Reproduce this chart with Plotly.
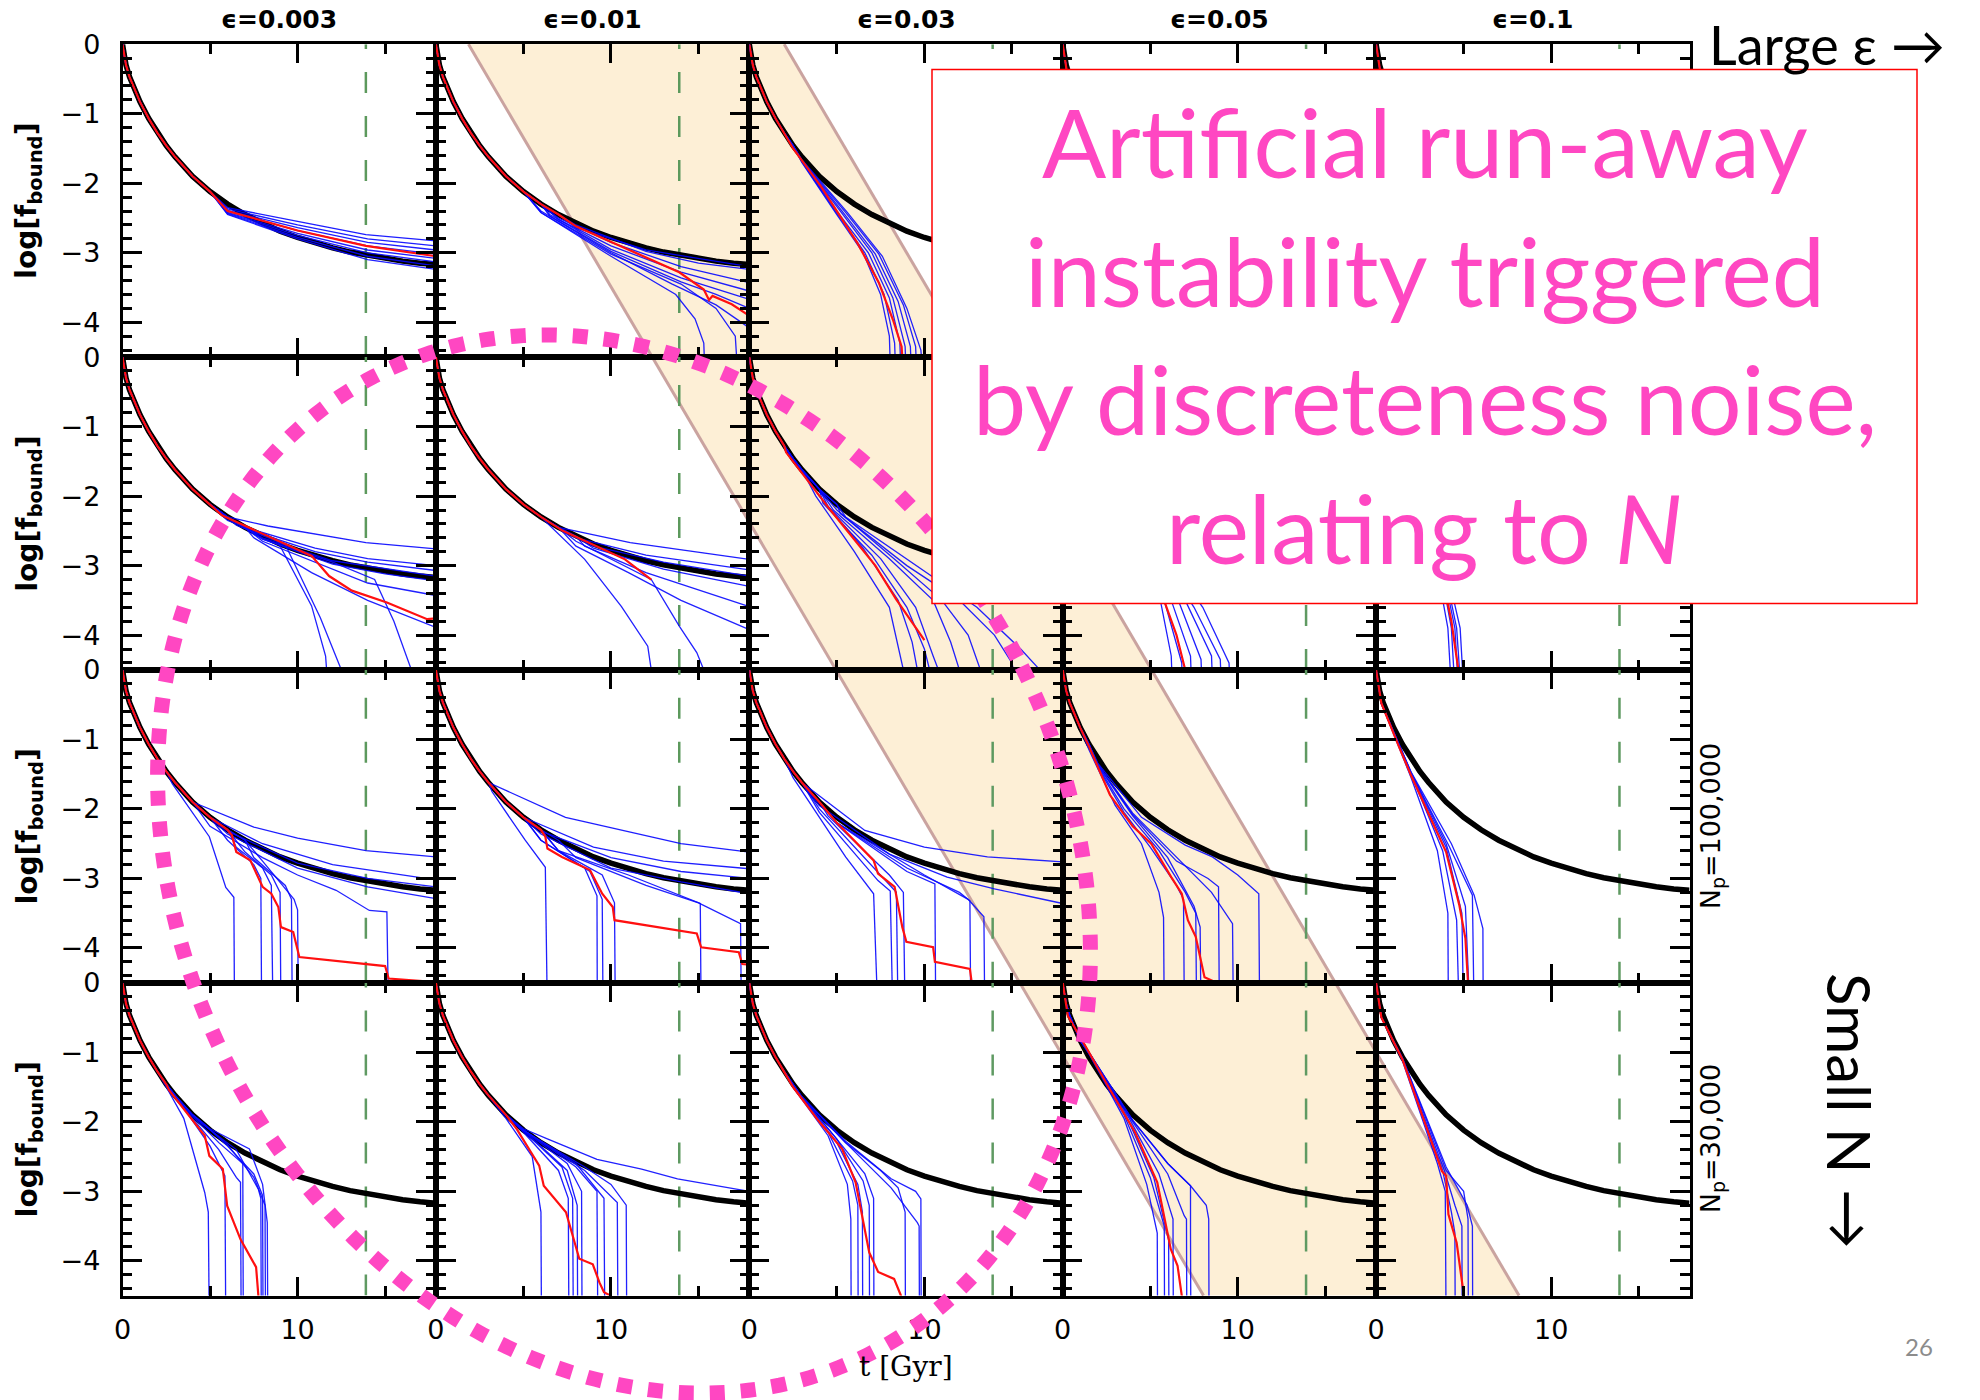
import numpy as np
import plotly.graph_objects as go

# ---------------------------------------------------------------- data --
EPSILON_LABELS = ["ϵ=0.003", "ϵ=0.01", "ϵ=0.03", "ϵ=0.05", "ϵ=0.1"]
NP_ROW_LABELS = [None, None, "N<sub>p</sub>=100,000", "N<sub>p</sub>=30,000"]
X_TICKS = [0, 10]
Y_TICKS = [0, -1, -2, -3, -4]
T_RANGE = [0, 17.9]
LOGF_RANGE = [-4.5, 0]
T_HUBBLE = 13.9

# converged reference track, log f_bound vs t [Gyr]
REF_T = [0, 0.2, 0.4, 0.7, 1.0, 1.5, 2.0, 2.5, 3.0, 4.0, 5.0, 6.0, 7.0, 8.0,
         9.0, 10.0, 11.0, 12.0, 13.0, 14.0, 15.0, 16.0, 17.0, 17.9]
REF_LOGF = [0, -0.3, -0.47, -0.66, -0.83, -1.07, -1.28, -1.46, -1.62, -1.9,
            -2.12, -2.3, -2.45, -2.58, -2.69, -2.78, -2.86, -2.93, -2.99,
            -3.04, -3.08, -3.12, -3.15, -3.17]

# individual runs: (t, log f) points after they leave the reference track
# row 1
RED_R1C1 = [(6, -2.4), (10, -2.68), (13.9, -2.9), (17.9, -3.05)]
BLUE_R1C1 = [
    [(6, -2.35), (10, -2.55), (13.9, -2.74), (17.9, -2.83)],
    [(6, -2.37), (10, -2.6), (14, -2.8), (17.9, -2.9)],
    [(6, -2.39), (10, -2.64), (14, -2.85), (17.9, -2.96)],
    [(6, -2.4), (10, -2.68), (14, -2.9), (17.9, -3.02)],
    [(6, -2.42), (10, -2.72), (14, -2.96), (17.9, -3.08)],
    [(6, -2.43), (10, -2.75), (14, -3.0), (17.9, -3.13)],
    [(6, -2.44), (10, -2.78), (14, -3.05), (17.9, -3.19)],
    [(6, -2.45), (10, -2.8), (14, -3.1), (17.9, -3.24)],
]
RED_R1C2 = [(8, -2.62), (10, -2.84), (13.9, -3.28), (15.3, -3.53), (15.6, -3.68),
            (15.8, -3.62), (16.9, -3.74), (17.8, -3.89)]
BLUE_R1C2 = [
    [(8, -2.64), (12, -2.96), (17.9, -3.2)],
    [(8, -2.6), (12, -2.98), (15, -3.15), (17.9, -3.24)],
    [(7, -2.5), (10, -2.85), (14, -3.2), (17.9, -3.43)],
    [(7, -2.52), (10, -2.9), (14, -3.28), (17.9, -3.55)],
    [(6.5, -2.45), (10, -2.95), (14, -3.36), (17.9, -3.67)],
    [(6.5, -2.47), (10, -2.98), (14, -3.42), (16, -3.6), (17.9, -3.8)],
    [(6, -2.4), (10, -3.0), (13.5, -3.45), (16, -3.75), (17.9, -4.08)],
    [(6, -2.42), (10, -3.05), (13.7, -3.6), (14.8, -3.95), (15.3, -4.3), (15.4, -5)],
    [(6, -2.42), (10, -3.02), (14, -3.45), (16, -3.8), (17.1, -4.2), (17.3, -5)],
]
RED_R1C3 = [(2.5, -1.5), (4.1, -2.05), (6.15, -2.85), (7.4, -3.43), (8.2, -3.96),
            (8.7, -4.35), (8.85, -5)]
BLUE_R1C3 = [
    [(3, -1.7), (5, -2.45), (6.5, -3.0), (7.5, -3.6), (8.0, -4.2), (8.1, -5)],
    [(3, -1.69), (5, -2.43), (6.6, -3.0), (7.7, -3.6), (8.3, -4.3), (8.4, -5)],
    [(3, -1.68), (5, -2.4), (6.8, -3.0), (8.0, -3.65), (8.6, -4.3), (8.7, -5)],
    [(3, -1.68), (5.2, -2.4), (7.0, -3.0), (8.2, -3.65), (8.9, -4.35), (9.0, -5)],
    [(3, -1.67), (5.3, -2.4), (7.2, -3.02), (8.5, -3.7), (9.2, -4.35), (9.3, -5)],
    [(3, -1.67), (5.5, -2.42), (7.4, -3.02), (8.8, -3.75), (9.5, -4.35), (9.6, -5)],
    [(3, -1.66), (5.6, -2.42), (7.6, -3.05), (9.0, -3.8), (9.8, -4.4), (10.0, -5)],
]
RED_R1C4 = [(0.3, -0.5), (2, -1.45), (4, -2.4), (6, -3.3), (7.2, -4.0), (7.8, -4.5)]
BLUE_R1C4 = [
    [(0.3, -0.5), (2, -1.48), (4, -2.5), (6, -3.55), (6.7, -4.3), (6.8, -5)],
    [(0.3, -0.5), (2, -1.47), (4, -2.45), (6.2, -3.5), (7.2, -4.3), (7.3, -5)],
    [(0.3, -0.5), (2, -1.46), (4.2, -2.45), (6.6, -3.5), (7.7, -4.3), (7.8, -5)],
    [(0.3, -0.5), (2, -1.45), (4.4, -2.45), (7.0, -3.5), (8.2, -4.3), (8.3, -5)],
    [(0.3, -0.5), (2, -1.44), (4.6, -2.45), (7.4, -3.5), (8.7, -4.3), (8.8, -5)],
    [(0.3, -0.5), (2, -1.43), (4.8, -2.45), (7.8, -3.5), (9.3, -4.35), (9.4, -5)],
    [(0.3, -0.5), (2, -1.42), (5.0, -2.45), (8.3, -3.5), (9.9, -4.4), (10.0, -5)],
]
RED_R1C5 = [(0.3, -0.5), (1.5, -1.12), (3.5, -2.6), (4.5, -3.6), (5.0, -4.5)]
BLUE_R1C5 = [
    [(0.3, -0.5), (1.5, -1.14), (3.4, -2.7), (4.2, -3.8), (4.5, -5)],
    [(0.3, -0.5), (1.5, -1.13), (3.6, -2.7), (4.4, -3.8), (4.7, -5)],
    [(0.3, -0.5), (1.5, -1.12), (3.8, -2.7), (4.6, -3.8), (4.9, -5)],
    [(0.3, -0.5), (1.5, -1.11), (4.0, -2.7), (4.8, -3.7), (5.1, -5)],
    [(0.3, -0.5), (1.5, -1.1), (4.2, -2.7), (5.0, -3.6), (5.4, -5)],
]
# row 2
RED_R2C1 = [(5.7, -2.28), (10.8, -2.86), (11.8, -3.15), (13.1, -3.36), (15.1, -3.53),
            (17.4, -3.77), (17.9, -3.76)]
BLUE_R2C1 = [
    [(6, -2.3), (8.3, -2.43), (13.9, -2.67), (17.9, -2.76)],
    [(7, -2.45), (11, -2.75), (14, -2.9), (17.9, -3.0)],
    [(7, -2.47), (11, -2.8), (14, -2.95), (17.9, -3.07)],
    [(8, -2.6), (12, -2.93), (17.9, -3.15)],
    [(8, -2.62), (12, -2.98), (15, -3.12), (17.9, -3.22)],
    [(8, -2.65), (11, -2.95), (14, -3.25), (17.9, -3.43)],
    [(7.5, -2.6), (10.8, -3.1), (14, -3.5), (17.9, -3.89)],
    [(6, -2.35), (8.8, -2.62), (10.8, -3.58), (11.6, -4.3), (11.8, -5)],
    [(6.5, -2.42), (9.3, -2.7), (11.3, -3.75), (12.5, -4.5), (12.55, -5)],
    [(8, -2.62), (12, -2.95), (14.4, -3.2), (15.5, -3.8), (16.5, -4.5), (16.55, -5)],
]
RED_R2C2 = [(7.25, -2.5), (10.8, -2.91), (12.3, -3.2)]
BLUE_R2C2 = [
    [(7, -2.45), (11.1, -2.67), (17.9, -2.91)],
    [(8, -2.6), (12, -2.85), (17.9, -3.06)],
    [(9, -2.72), (13, -2.95), (17.9, -3.15)],
    [(9, -2.75), (13, -3.05), (17.9, -3.3)],
    [(8.5, -2.72), (12, -3.1), (15, -3.35), (17.9, -3.59)],
    [(8, -2.72), (11, -3.1), (14, -3.5), (17.9, -3.92)],
    [(7, -2.55), (8.5, -2.91), (10.6, -3.59), (12.1, -4.16), (12.3, -4.5), (12.35, -5)],
    [(8, -2.65), (12.3, -3.2), (13.9, -3.87), (14.9, -4.25), (15.3, -4.5), (15.35, -5)],
]
RED_R2C3 = [(2.1, -1.37), (4.6, -2.19), (7.2, -3.0), (8.4, -3.49), (10.0, -4.07)]
BLUE_R2C3 = [
    [(3.8, -2.0), (6, -2.8), (8, -3.6), (8.8, -4.5), (8.85, -5)],
    [(4.0, -2.0), (6.5, -2.75), (8.5, -3.5), (9.3, -4.1), (9.6, -4.5), (9.65, -5)],
    [(4.2, -2.1), (7, -2.85), (9, -3.6), (10, -4.2), (10.3, -4.5), (10.35, -5)],
    [(4.5, -2.15), (7.5, -2.9), (9.5, -3.6), (10.5, -4.3), (10.8, -4.5), (10.85, -5)],
    [(4.8, -2.2), (8, -2.9), (10.5, -3.5), (11.5, -4.1), (12, -4.5), (12.05, -5)],
    [(5, -2.2), (8.5, -2.95), (11, -3.5), (12.5, -4.0), (13.2, -4.5), (13.25, -5)],
    [(5.2, -2.25), (9, -3.0), (12, -3.5), (14, -4.0), (15, -4.4), (15.5, -5)],
    [(5.5, -2.3), (9.5, -3.0), (13, -3.6), (15.5, -4.2), (16.6, -4.5), (16.65, -5)],
]
RED_R2C4 = [(0.3, -0.5), (2, -1.5), (4, -2.5), (5.5, -3.3), (6.5, -4.0), (7.0, -4.5)]
BLUE_R2C4 = [
    [(0.3, -0.5), (2, -1.5), (4, -2.55), (5.5, -3.4), (6.2, -4.3), (6.3, -5)],
    [(0.3, -0.5), (2, -1.48), (4, -2.5), (5.8, -3.5), (6.8, -4.4), (6.85, -5)],
    [(0.3, -0.5), (2, -1.47), (4.2, -2.5), (6.2, -3.5), (7.3, -4.3), (7.4, -5)],
    [(0.3, -0.5), (2, -1.46), (4.4, -2.5), (6.6, -3.5), (7.9, -4.35), (8.0, -5)],
    [(0.3, -0.5), (2, -1.45), (4.5, -2.45), (7.0, -3.5), (8.5, -4.3), (8.6, -5)],
    [(0.3, -0.5), (2, -1.45), (4.6, -2.45), (7.5, -3.6), (9.0, -4.35), (9.1, -5)],
    [(0.3, -0.5), (2, -1.44), (4.8, -2.45), (8.0, -3.6), (9.5, -4.4), (9.6, -5)],
]
RED_R2C5 = [(0.3, -0.5), (1.5, -1.15), (3.5, -2.8), (4.3, -3.8), (4.7, -4.5)]
BLUE_R2C5 = [
    [(0.3, -0.5), (1.5, -1.15), (3.3, -2.8), (4.1, -3.9), (4.35, -5)],
    [(0.3, -0.5), (1.5, -1.14), (3.5, -2.8), (4.3, -3.9), (4.55, -5)],
    [(0.3, -0.5), (1.5, -1.13), (3.6, -2.8), (4.5, -3.9), (4.75, -5)],
    [(0.3, -0.5), (1.5, -1.12), (3.7, -2.8), (4.6, -3.9), (4.9, -5)],
    [(0.3, -0.5), (1.5, -1.12), (3.8, -2.8), (4.8, -3.9), (5.05, -5)],
]
# row 3  (N_p = 100,000)
RED_R3C1 = [(6.25, -2.38), (6.5, -2.62), (7.3, -2.74), (8.0, -3.12), (8.5, -3.22),
            (8.9, -3.41), (9.05, -3.7), (9.75, -3.77), (10.1, -4.13), (15.0, -4.26),
            (15.2, -4.44), (17.9, -4.49)]
BLUE_R3C1 = [
    [(2.6, -1.5), (4, -1.9), (7.5, -2.26), (10, -2.42), (13.9, -2.6), (17.9, -2.69)],
    [(5, -2.12), (8, -2.5), (12, -2.8), (17.9, -3.02)],
    [(6, -2.32), (10, -2.78), (14, -3.0), (17.9, -3.12)],
    [(6, -2.36), (10, -2.85), (14, -3.12), (17.9, -3.29)],
    [(5, -2.25), (8, -2.7), (10, -2.95), (12.2, -3.17), (14.1, -3.46), (15.1, -3.48), (15.2, -5)],
    [(2.85, -1.64), (4.96, -2.4), (5.9, -3.13), (6.36, -3.27), (6.4, -5)],
    [(6, -2.45), (7.5, -2.8), (7.9, -3.0), (7.95, -5)],
    [(6.5, -2.55), (8, -2.85), (8.5, -3.1), (8.6, -5)],
    [(7, -2.62), (8.5, -2.95), (9.0, -3.2), (9.05, -5)],
    [(7.5, -2.7), (9.3, -3.1), (9.65, -3.3), (9.7, -5)],
    [(8, -2.75), (9.8, -3.3), (10.0, -3.45), (10.05, -5)],
]
RED_R3C2 = [(6.25, -2.4), (6.37, -2.57), (7.2, -2.69), (8.8, -2.88), (9.5, -3.22),
            (10.1, -3.41), (10.2, -3.6), (14.9, -3.79), (15.15, -3.99), (17.3, -4.06),
            (17.5, -4.23), (17.9, -4.24)]
BLUE_R3C2 = [
    [(3, -1.62), (7.4, -2.12), (14, -2.5), (17.9, -2.62)],
    [(5, -2.12), (9, -2.55), (13, -2.75), (17.9, -2.86)],
    [(6, -2.32), (10, -2.7), (14, -2.9), (17.9, -3.0)],
    [(6, -2.36), (10, -2.85), (14, -3.05), (17.9, -3.22)],
    [(3.2, -1.75), (5.1, -2.45), (6.25, -2.84), (6.37, -5)],
    [(6, -2.45), (8.5, -2.85), (9.2, -3.25), (9.22, -5)],
    [(6, -2.45), (8.8, -2.9), (9.5, -3.3), (9.55, -5)],
    [(7, -2.6), (9.5, -2.95), (10.2, -3.35), (10.25, -5)],
    [(7, -2.6), (11, -2.95), (14, -3.25), (15.1, -3.36), (15.15, -5)],
    [(8, -2.7), (12, -3.1), (15, -3.35), (17.4, -3.65), (17.45, -5)],
]
RED_R3C3 = [(5, -2.2), (7.1, -2.74), (7.35, -2.93), (8.3, -3.12), (8.74, -3.7),
            (8.97, -3.91), (10.5, -3.99), (10.6, -4.2), (12.6, -4.3), (12.7, -4.49),
            (13.0, -4.5)]
BLUE_R3C3 = [
    [(3, -1.62), (6.6, -2.31), (10, -2.55), (13.6, -2.69), (17.9, -2.76)],
    [(4, -1.95), (8, -2.65), (11.3, -2.98), (14, -3.15), (17.9, -3.36)],
    [(2.5, -1.55), (5.5, -2.69), (7.1, -3.22), (7.35, -5)],
    [(4, -2.05), (7.35, -3.03), (8.05, -3.18), (8.2, -5)],
    [(4, -2.0), (7.5, -2.95), (8.4, -3.2), (8.5, -5)],
    [(4.5, -2.1), (8, -2.95), (8.8, -3.2), (8.9, -5)],
    [(5, -2.2), (9, -2.9), (10.6, -3.08), (10.65, -5)],
    [(5, -2.2), (9, -2.85), (12, -3.2), (12.6, -3.32), (12.65, -5)],
    [(5, -2.2), (10, -2.95), (12.5, -3.3), (13.4, -3.55), (13.45, -5)],
]
RED_R3C4 = [(1.5, -1.1), (2.7, -1.8), (4, -2.25), (5.06, -2.5), (6.2, -2.98),
            (6.8, -3.22), (7.15, -3.6), (7.6, -3.84), (8.1, -4.42), (8.8, -4.5)]
BLUE_R3C4 = [
    [(1.5, -1.15), (3, -1.95), (4.5, -2.5), (5.5, -3.2), (5.76, -3.56), (5.8, -5)],
    [(2, -1.4), (3.5, -2.05), (5, -2.55), (6.5, -3.1), (6.9, -3.3), (6.95, -5)],
    [(2, -1.38), (3.5, -2.0), (5.5, -2.6), (7, -3.2), (7.6, -3.5), (7.65, -5)],
    [(2, -1.37), (4, -2.1), (6, -2.7), (7.5, -3.4), (7.85, -3.7), (7.9, -5)],
    [(2, -1.36), (4, -2.08), (6.5, -2.75), (8.3, -3.0), (8.9, -3.12), (8.95, -5)],
    [(2, -1.36), (4, -2.06), (6.5, -2.7), (8.5, -3.2), (9.7, -3.65), (9.75, -5)],
    [(2, -1.34), (4.5, -2.12), (7, -2.52), (8.55, -2.69), (10, -2.95), (11.2, -3.22), (11.25, -5)],
]
RED_R3C5 = [(0.3, -0.48), (1.3, -1.1), (2.0, -1.52), (4.0, -2.62), (4.75, -3.38),
            (5.1, -3.86), (5.25, -4.5)]
BLUE_R3C5 = [
    [(0.3, -0.48), (2, -1.55), (3.5, -2.6), (4.1, -3.5), (4.13, -5)],
    [(0.3, -0.48), (2, -1.5), (3.8, -2.6), (4.6, -3.6), (4.75, -5)],
    [(0.3, -0.48), (2, -1.5), (4, -2.55), (4.9, -3.5), (5.0, -5)],
    [(0.3, -0.48), (2, -1.48), (4, -2.5), (5.1, -3.4), (5.37, -5)],
    [(0.3, -0.48), (2, -1.48), (4.2, -2.55), (5.5, -3.24), (5.6, -5)],
    [(0.3, -0.48), (2, -1.47), (4.3, -2.5), (5.6, -3.24), (6.1, -3.72), (6.12, -5)],
]
# row 4  (N_p = 30,000)
RED_R4C1 = [(2.67, -1.55), (4.7, -2.2), (4.96, -2.49), (5.73, -2.68), (5.98, -3.21),
            (6.74, -3.69), (7.63, -4.09), (7.76, -4.5), (7.8, -5)]
BLUE_R4C1 = [
    [(2.5, -1.5), (3.5, -1.95), (4.7, -3.02), (4.9, -3.3), (4.96, -5)],
    [(3.5, -1.8), (5, -2.35), (5.85, -2.78), (5.9, -5)],
    [(4, -1.95), (5.5, -2.4), (6.5, -2.8), (6.74, -2.87), (6.78, -5)],
    [(4, -1.92), (5.5, -2.3), (6.87, -2.6), (6.9, -5)],
    [(4.5, -2.0), (6, -2.35), (7.5, -2.75), (8.0, -3.06), (8.03, -5)],
    [(4.5, -2.0), (6, -2.33), (7.5, -2.8), (8.14, -3.2), (8.17, -5)],
    [(5, -2.1), (7.25, -2.39), (8.0, -2.9), (8.27, -3.45), (8.3, -5)],
    [(4.5, -2.02), (6.5, -2.4), (7.76, -2.97), (7.9, -3.1), (7.93, -5)],
]
RED_R4C2 = [(4.63, -2.11), (5.9, -2.63), (6.16, -2.92), (7.43, -3.3), (8.19, -3.97),
            (8.96, -4.05), (9.34, -4.31), (9.6, -4.45), (9.97, -4.5), (10.0, -5)]
BLUE_R4C2 = [
    [(5, -2.1), (6.4, -2.25), (9.2, -2.54), (11.75, -2.68), (13.8, -2.82), (17.9, -3.0)],
    [(4, -1.95), (5.5, -2.5), (6.0, -3.3), (6.03, -5)],
    [(5, -2.15), (7, -2.7), (7.56, -3.1), (7.6, -5)],
    [(5, -2.13), (7.2, -2.65), (7.81, -3.1), (7.85, -5)],
    [(5, -2.12), (7.5, -2.7), (8.07, -3.2), (8.1, -5)],
    [(5, -2.12), (7.5, -2.6), (8.32, -3.0), (8.35, -5)],
    [(5.5, -2.2), (8, -2.65), (9.2, -3.0), (9.25, -5)],
    [(5.5, -2.2), (8, -2.6), (9.6, -3.1), (9.65, -5)],
    [(5.5, -2.2), (8.5, -2.7), (10.36, -3.16), (10.4, -5)],
    [(5.5, -2.2), (8.5, -2.65), (10.0, -2.9), (10.87, -3.2), (10.9, -5)],
]
RED_R4C3 = [(2.5, -1.5), (4, -2.0), (5.3, -2.39), (6.07, -2.87), (6.85, -3.88),
            (7.36, -4.16), (8.27, -4.26), (8.66, -4.5), (8.7, -5)]
BLUE_R4C3 = [
    [(2.5, -1.5), (4.5, -2.2), (5.6, -2.9), (5.8, -3.4), (5.82, -5)],
    [(2.5, -1.5), (4.5, -2.15), (5.9, -2.85), (6.2, -3.2), (6.22, -5)],
    [(3, -1.65), (5, -2.3), (6.2, -2.9), (6.46, -3.3), (6.48, -5)],
    [(3, -1.65), (5, -2.25), (6.5, -2.85), (6.85, -3.2), (6.87, -5)],
    [(3, -1.64), (5, -2.25), (6.6, -2.75), (7.1, -3.1), (7.12, -5)],
    [(3, -1.64), (5.5, -2.3), (7.5, -2.7), (8.5, -2.95), (8.9, -3.3), (8.92, -5)],
    [(3, -1.64), (5.5, -2.28), (8.1, -2.82), (9.5, -3.0), (9.8, -3.11), (9.82, -5)],
    [(3, -1.64), (5.5, -2.3), (8.1, -2.95), (9.6, -3.45), (9.7, -3.5), (9.72, -5)],
]
RED_R4C4 = [(0.3, -0.48), (1.5, -1.0), (2.5, -1.45), (4.13, -2.15), (5.4, -2.87),
            (6.17, -3.83), (6.56, -4.07), (6.8, -4.5), (6.82, -5)]
BLUE_R4C4 = [
    [(1.5, -1.02), (3.5, -1.95), (4.8, -2.9), (5.4, -3.6), (5.42, -5)],
    [(1.5, -1.02), (3.5, -1.9), (5, -2.8), (5.8, -3.5), (5.82, -5)],
    [(1.5, -1.02), (3.6, -1.9), (5.2, -2.8), (6.05, -3.7), (6.07, -5)],
    [(1.5, -1.0), (3.8, -1.95), (5.5, -2.75), (6.3, -3.4), (6.32, -5)],
    [(1.5, -1.0), (4, -2.0), (6, -2.75), (6.94, -3.35), (7.07, -3.4), (7.09, -5)],
    [(1.5, -1.0), (4, -1.98), (6, -2.6), (7.3, -2.92), (7.3, -3.6), (7.32, -5)],
    [(1.5, -1.0), (4, -1.98), (6, -2.6), (7.3, -2.92), (8.2, -3.2), (8.34, -3.4), (8.36, -5)],
]
RED_R4C5 = [(0.3, -0.5), (1.5, -1.1), (3.76, -2.71), (4.0, -2.78), (4.13, -3.33),
            (4.6, -3.74), (5.0, -4.47), (5.02, -5)]
BLUE_R4C5 = [
    [(0.3, -0.5), (1.5, -1.12), (3.5, -2.6), (3.95, -3.0), (4.0, -5)],
    [(0.3, -0.5), (1.5, -1.1), (3.8, -2.7), (4.3, -3.3), (4.5, -3.6), (4.52, -5)],
    [(0.3, -0.5), (1.5, -1.1), (3.9, -2.7), (4.5, -3.2), (4.9, -3.5), (4.92, -5)],
    [(0.3, -0.5), (1.5, -1.08), (4.0, -2.7), (5.0, -3.0), (5.25, -3.4), (5.27, -5)],
    [(0.3, -0.5), (1.5, -1.08), (4.0, -2.65), (5.2, -3.2), (5.5, -3.5), (5.52, -5)],
]

RED_RUNS = [
    [RED_R1C1, RED_R1C2, RED_R1C3, RED_R1C4, RED_R1C5],
    [RED_R2C1, RED_R2C2, RED_R2C3, RED_R2C4, RED_R2C5],
    [RED_R3C1, RED_R3C2, RED_R3C3, RED_R3C4, RED_R3C5],
    [RED_R4C1, RED_R4C2, RED_R4C3, RED_R4C4, RED_R4C5],
]
BLUE_RUNS = [
    [BLUE_R1C1, BLUE_R1C2, BLUE_R1C3, BLUE_R1C4, BLUE_R1C5],
    [BLUE_R2C1, BLUE_R2C2, BLUE_R2C3, BLUE_R2C4, BLUE_R2C5],
    [BLUE_R3C1, BLUE_R3C2, BLUE_R3C3, BLUE_R3C4, BLUE_R3C5],
    [BLUE_R4C1, BLUE_R4C2, BLUE_R4C3, BLUE_R4C4, BLUE_R4C5],
]

# ------------------------------------------------------------- styling --
W, H = 1980, 1400
GRID_LEFT, GRID_TOP = 122.5, 44.2
PANEL_W, PANEL_H = 313.4, 312.85
N_ROWS, N_COLS = 4, 5

BLUE = "#0a0aff"
RED = "#ff1010"
GREEN = "#5f9a62"
BAND_FILL = "#fdefd6"
BAND_EDGE = "#caa4a0"
PINK = "#ff47c2"
TICK_FONT = dict(family="DejaVu Sans", size=27, color="black")


def px(x):
    return x / W


def py(y):
    return 1 - y / H


def track(points):
    """Reference track up to where the run departs, then the run itself."""
    t0 = points[0][0]
    ts = [t for t in REF_T if t < t0]
    ys = REF_LOGF[:len(ts)]
    return ts + [p[0] for p in points], ys + [p[1] for p in points]


fig = go.Figure()
layout_axes = {}
minor_y = [round(v, 1) for v in np.arange(-4.4, 0, 0.2) if abs(v - round(v)) > 1e-6]

for r in range(N_ROWS):
    for c in range(N_COLS):
        k = r * N_COLS + c + 1
        xa, ya = f"x{k}", f"y{k}"
        x0 = GRID_LEFT + c * PANEL_W
        y0 = GRID_TOP + r * PANEL_H
        common = dict(showline=True, linecolor="black", linewidth=2.5,
                      mirror="ticks", ticks="inside", tickcolor="black",
                      tickwidth=2.5, showgrid=False, zeroline=False,
                      tickfont=TICK_FONT, fixedrange=True, automargin=False)
        layout_axes[f"xaxis{k}"] = dict(
            common, domain=[px(x0), px(x0 + PANEL_W)], anchor=ya,
            range=T_RANGE, tickmode="array", tickvals=X_TICKS, ticklen=19,
            showticklabels=(r == N_ROWS - 1), ticklabelstandoff=8,
            minor=dict(tickmode="array", tickvals=[5, 15], ticklen=10,
                       tickwidth=2.5, tickcolor="black", ticks="inside"))
        layout_axes[f"yaxis{k}"] = dict(
            common, domain=[py(y0 + PANEL_H), py(y0)], anchor=xa,
            range=LOGF_RANGE, tickmode="array", tickvals=Y_TICKS, ticklen=20,
            showticklabels=(c == 0), ticklabelstandoff=14,
            minor=dict(tickmode="array", tickvals=minor_y, ticklen=10,
                       tickwidth=2.5, tickcolor="black", ticks="inside"))

        # age of the Universe
        fig.add_trace(go.Scatter(
            x=[T_HUBBLE, T_HUBBLE], y=LOGF_RANGE, mode="lines", xaxis=xa, yaxis=ya,
            line=dict(color=GREEN, width=2.5, dash="21px,23px"), hoverinfo="skip"))
        # converged reference
        fig.add_trace(go.Scatter(
            x=REF_T, y=REF_LOGF, mode="lines", xaxis=xa, yaxis=ya,
            line=dict(color="black", width=5.5), hoverinfo="skip"))
        for run in BLUE_RUNS[r][c]:
            tx, ty = track(run)
            fig.add_trace(go.Scatter(
                x=tx, y=ty, mode="lines", xaxis=xa, yaxis=ya,
                line=dict(color=BLUE, width=1.3), opacity=0.9, hoverinfo="skip"))
        tx, ty = track(RED_RUNS[r][c])
        fig.add_trace(go.Scatter(
            x=tx, y=ty, mode="lines", xaxis=xa, yaxis=ya,
            line=dict(color=RED, width=2.2), hoverinfo="skip"))

fig.update_layout(**layout_axes)

shapes = []
# instability band (behind the curves)
band_top, band_bot = GRID_TOP, GRID_TOP + N_ROWS * PANEL_H
band_left = (468.5, 1203.5)
band_right = (784.2, 1519.0)
shapes.append(dict(
    type="path", xref="paper", yref="paper", layer="below", line=dict(width=0),
    fillcolor=BAND_FILL,
    path=(f"M {px(band_left[0])},{py(band_top)} L {px(band_right[0])},{py(band_top)} "
          f"L {px(band_right[1])},{py(band_bot)} L {px(band_left[1])},{py(band_bot)} Z")))
for edge in (band_left, band_right):
    shapes.append(dict(type="line", xref="paper", yref="paper", layer="below",
                       x0=px(edge[0]), y0=py(band_top), x1=px(edge[1]), y1=py(band_bot),
                       line=dict(color=BAND_EDGE, width=3)))

# dotted ellipse around the low-softening panels
cx, cy, ea, eb, tilt = 624, 864, 444, 548, np.radians(-26.4)
th = np.linspace(0, 2 * np.pi, 361)
u, v = ea * np.cos(th), eb * np.sin(th)
ex = cx + u * np.cos(tilt) - v * np.sin(tilt)
ey = cy + u * np.sin(tilt) + v * np.cos(tilt)
ell_path = "M " + " L ".join(f"{px(a):.5f},{py(b):.5f}" for a, b in zip(ex, ey)) + " Z"
shapes.append(dict(type="path", xref="paper", yref="paper", layer="above",
                   path=ell_path, line=dict(color=PINK, width=15, dash="15px,16px")))

# call-out box
shapes.append(dict(type="rect", xref="paper", yref="paper", layer="above",
                   x0=px(932), x1=px(1917), y0=py(603.6), y1=py(69.5),
                   fillcolor="white", line=dict(color="#ff0000", width=1.5)))
fig.update_layout(shapes=shapes)

annotations = []
for c, lab in enumerate(EPSILON_LABELS):
    annotations.append(dict(
        x=px(GRID_LEFT + (c + 0.5) * PANEL_W), y=py(20), xref="paper", yref="paper",
        text=f"<b>{lab}</b>", showarrow=False, xanchor="center", yanchor="middle",
        font=dict(family="DejaVu Sans", size=25, color="black")))
for r in range(N_ROWS):
    yc = GRID_TOP + (r + 0.5) * PANEL_H
    annotations.append(dict(
        x=px(29), y=py(yc), xref="paper", yref="paper", textangle=-90,
        text="<b>log[f<sub>bound</sub>]</b>", showarrow=False,
        xanchor="center", yanchor="middle",
        font=dict(family="DejaVu Sans", size=28, color="black")))
    if NP_ROW_LABELS[r]:
        annotations.append(dict(
            x=px(1712), y=py(yc), xref="paper", yref="paper", textangle=-90,
            text=NP_ROW_LABELS[r], showarrow=False, xanchor="center", yanchor="middle",
            font=dict(family="DejaVu Sans", size=27, color="black")))
annotations.append(dict(
    x=px(GRID_LEFT + 2.5 * PANEL_W), y=py(1366), xref="paper", yref="paper",
    text="t [Gyr]", showarrow=False, xanchor="center", yanchor="middle",
    font=dict(family="DejaVu Serif", size=28, color="black")))

callout = ["Artificial run-away", "instability triggered",
           "by discreteness noise,", "relating to <i>N</i>"]
for i, line in enumerate(callout):
    annotations.append(dict(
        x=px(1424.5), y=py(141 + i * 128.5), xref="paper", yref="paper",
        text=line, showarrow=False, xanchor="center", yanchor="middle",
        font=dict(family="Lato", size=95, color=PINK)))

annotations.append(dict(
    x=px(1707), y=py(44), xref="paper", yref="paper", text="Large ε →",
    showarrow=False, xanchor="left", yanchor="middle",
    font=dict(family="Lato", size=54, color="black")))
annotations.append(dict(
    x=px(1850), y=py(1111), xref="paper", yref="paper", text="Small N →",
    textangle=90, showarrow=False, xanchor="center", yanchor="middle",
    font=dict(family="Lato", size=60, color="black")))
annotations.append(dict(
    x=px(1919), y=py(1346), xref="paper", yref="paper", text="26",
    showarrow=False, xanchor="center", yanchor="middle",
    font=dict(family="Lato", size=24, color="#8c8c8c")))
fig.update_layout(annotations=annotations)

fig.update_layout(
    width=W, height=H, margin=dict(l=0, r=0, t=0, b=0, pad=0, autoexpand=False),
    paper_bgcolor="white", plot_bgcolor="rgba(0,0,0,0)", showlegend=False)

fig.write_html("out.html", config={"displayModeBar": False})
